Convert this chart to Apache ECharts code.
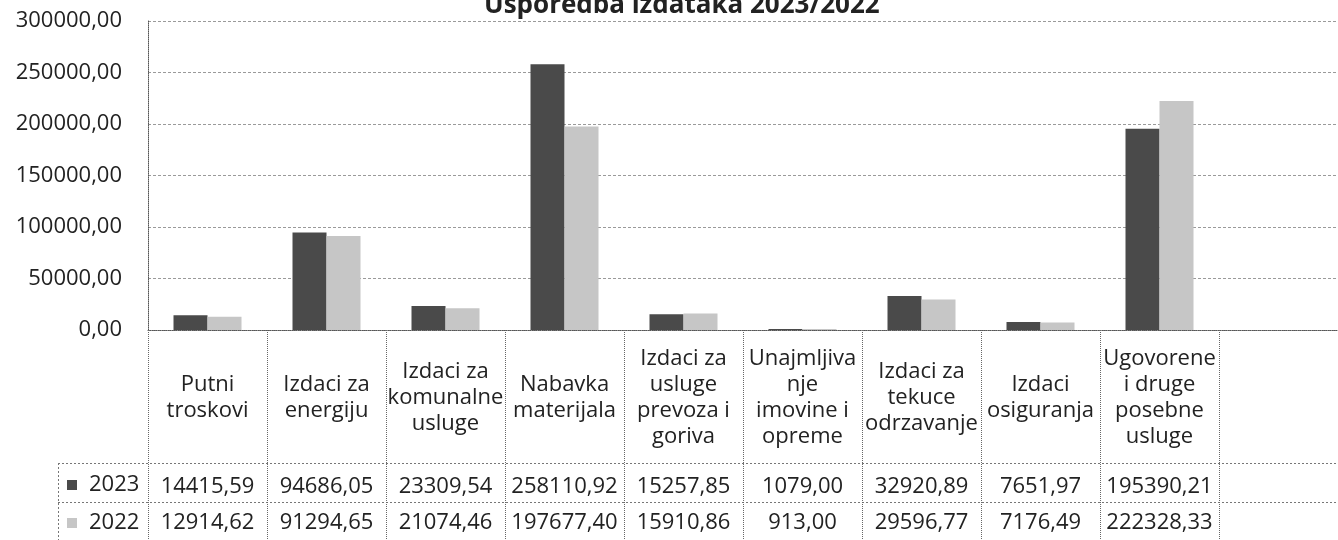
<!DOCTYPE html>
<html>
<head>
<meta charset="UTF-8">
<title>Usporedba izdataka 2023/2022</title>
<script src="https://cdn.jsdelivr.net/npm/echarts@6/dist/echarts.min.js"></script>
<style>
	html, body { margin: 0; padding: 0; background: #fff; }
	#chart { width: 1338px; height: 540px; }
</style>
</head>
<body>
<div id="chart"></div>
<script>
// kategorije (zadnji stupac u tablici je prazan)
var categories = ['Putni\ntroskovi', 'Izdaci za\nenergiju', 'Izdaci za\nkomunalne\nusluge', 'Nabavka\nmaterijala',
	'Izdaci za\nusluge\nprevoza i\ngoriva', 'Unajmljiva\nnje\nimovine i\nopreme', 'Izdaci za\ntekuce\nodrzavanje',
	'Izdaci\nosiguranja', 'Ugovorene\ni druge\nposebne\nusluge', ''];
var values2023 = [14415.59, 94686.05, 23309.54, 258110.92, 15257.85, 1079.00, 32920.89, 7651.97, 195390.21, null];
var values2022 = [12914.62, 91294.65, 21074.46, 197677.40, 15910.86, 913.00, 29596.77, 7176.49, 222328.33, null];
var yTicks = { min: 0, max: 300000, step: 50000 };

function fmt(v) {
	if (v === null || v === undefined) return '';
	return Number(v).toFixed(2).replace('.', ',');
}

var FONT = '"Open Sans", "Noto Sans", sans-serif';
var TXT = '#222';
var chart = echarts.init(document.getElementById('chart'));

var option = {
	animation: false,
	title: {
		text: 'Usporedba izdataka 2023/2022',
		left: 484,
		top: -7,
		padding: 0,
		textStyle: { fontFamily: FONT, fontSize: 26, fontWeight: 'bold', color: TXT }
	},
	legend: {
		orient: 'vertical',
		left: 67,
		top: 472,
		padding: 0,
		itemGap: 12,
		itemWidth: 10,
		itemHeight: 10,
		icon: 'rect',
		data: ['2023', '2022'],
		textStyle: { fontFamily: FONT, fontSize: 22, color: TXT, lineHeight: 26, padding: [0, 0, 0, 7] }
	},
	grid: { left: 148, right: -10, top: 21, bottom: 210 },
	xAxis: [{
		type: 'category',
		data: categories,
		axisLine: { lineStyle: { color: '#555', type: 'dotted', width: 1 } },
		axisTick: { show: true, length: 210, lineStyle: { color: '#666', type: 'dotted' } },
		axisLabel: { interval: 0, margin: 68, verticalAlign: 'middle', lineHeight: 26, fontFamily: FONT, fontSize: 22, color: TXT },
		splitLine: { show: false }
	}, {
		type: 'category',
		position: 'bottom',
		offset: 133,
		data: values2023.map(fmt),
		axisLine: { show: false },
		axisTick: { show: false },
		axisLabel: { interval: 0, margin: 24, verticalAlign: 'middle', fontFamily: FONT, fontSize: 22, color: TXT }
	}, {
		type: 'category',
		position: 'bottom',
		offset: 172,
		data: values2022.map(fmt),
		axisLine: { show: false },
		axisTick: { show: false },
		axisLabel: { interval: 0, margin: 21, verticalAlign: 'middle', fontFamily: FONT, fontSize: 22, color: TXT }
	}],
	yAxis: {
		type: 'value',
		min: yTicks.min,
		max: yTicks.max,
		interval: yTicks.step,
		axisLine: { show: true, lineStyle: { color: '#555', type: 'dotted' } },
		axisTick: { show: false },
		axisLabel: { margin: 26, fontFamily: FONT, fontSize: 22, color: TXT, formatter: fmt },
		splitLine: { lineStyle: { color: '#9a9a9a', type: [3, 2] } }
	},
	graphic: [
		// okvir tablice s podacima
		{ type: 'line', shape: { x1: 58, y1: 463.5, x2: 1338, y2: 463.5 }, style: { stroke: '#777', lineDash: [2, 2] } },
		{ type: 'line', shape: { x1: 58, y1: 502.5, x2: 1338, y2: 502.5 }, style: { stroke: '#777', lineDash: [2, 2] } },
		{ type: 'line', shape: { x1: 58.5, y1: 463, x2: 58.5, y2: 540 }, style: { stroke: '#777', lineDash: [2, 2] } }
	],
	series: [{
		name: '2023',
		type: 'bar',
		data: values2023,
		barWidth: 34,
		barGap: '0%',
		itemStyle: { color: '#4a4a4a' }
	}, {
		name: '2022',
		type: 'bar',
		data: values2022,
		barWidth: 34,
		itemStyle: { color: '#c6c6c6' }
	}]
};

chart.setOption(option);
</script>
</body>
</html>
